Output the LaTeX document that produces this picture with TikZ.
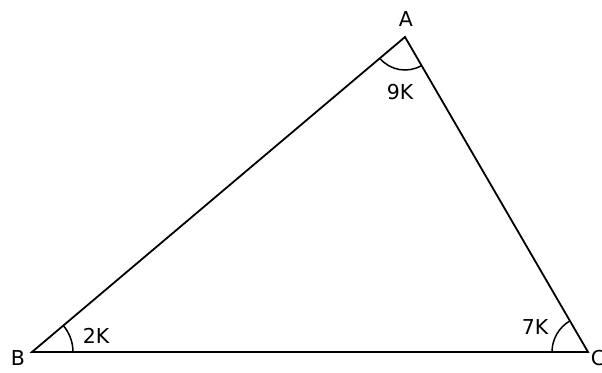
\documentclass[tikz,border=0pt]{standalone}
\usepackage{fontspec}
\setmainfont{DejaVu Sans}
\usetikzlibrary{calc}
\begin{document}
\begin{tikzpicture}[x=1pt,y=-1pt,
  edge/.style={line width=1.8pt,black},
  anglearc/.style={line width=1.5pt,black},
  lbl/.style={font=\fontsize{20.5}{22}\selectfont,inner sep=0pt}]
\useasboundingbox (0,0) rectangle (602,372);
\coordinate (A) at (405,37);
\coordinate (B) at (32,352);
\coordinate (C) at (588,352);
\draw[edge] (A) -- (B) -- (C) -- cycle;
% angle arcs (angles measured with y pointing down)
\draw[anglearc] ($(A)+(59.85:33)$) arc[start angle=59.85,end angle=139.8,radius=33];
\draw[anglearc] ($(B)+(-40.18:41)$) arc[start angle=-40.18,end angle=0,radius=41];
\draw[anglearc] ($(C)+(180:36)$) arc[start angle=180,end angle=239.85,radius=36];
\node[lbl] (la) at (406,19) {A};
\node[lbl] (lb) at (18,358) {B};
\node[lbl] (lc) at (598,358) {C};
\node[lbl] (l9) at (400,92) {9K};
\node[lbl] (l2) at (96,336) {2K};
\node[lbl] (l7) at (535,327) {7K};
\end{tikzpicture}
\end{document}
